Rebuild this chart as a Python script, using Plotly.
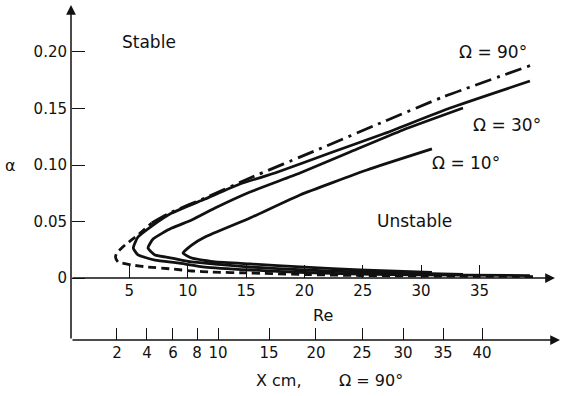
import plotly.graph_objects as go

# ---------------- data ----------------
# Omega = 90 deg, dashed lower branch + nose
dash_re    = [39.59, 29.91, 24.76, 20.05, 15.34, 12.08, 10.37, 8.65, 6.60, 5.23, 4.03, 3.81, 3.92, 4.63, 5.74, 6.92]
dash_alpha = [0.0013, 0.0018, 0.0022, 0.0031, 0.0044, 0.0053, 0.0062, 0.0080, 0.0097, 0.0115, 0.0142, 0.0186, 0.0221, 0.0292, 0.0381, 0.0487]
# Omega = 90 deg, dash-dot upper branch
dd_re    = [6.92, 8.63, 11.48, 15.34, 21.08, 26.74, 31.88, 39.50]
dd_alpha = [0.0487, 0.0584, 0.0708, 0.0885, 0.1133, 0.1381, 0.1602, 0.1885]
# Omega = 90 deg, solid
a_re    = [39.33, 29.91, 24.76, 20.05, 15.34, 11.48, 9.17, 7.20, 5.74, 5.34, 5.74, 6.92, 8.63, 11.48, 14.48, 17.48, 22.19, 26.74, 32.48, 39.33]
a_alpha = [0.0022, 0.0027, 0.0035, 0.0049, 0.0071, 0.0097, 0.0133, 0.0159, 0.0204, 0.0265, 0.0363, 0.0460, 0.0575, 0.0699, 0.0832, 0.0929, 0.1106, 0.1274, 0.1504, 0.1743]
# Omega = 30 deg
b_re    = [33.59, 29.91, 24.76, 20.05, 15.34, 12.34, 10.34, 8.63, 7.20, 6.60, 7.03, 8.63, 10.34, 12.34, 15.34, 19.62, 23.91, 28.45, 33.59]
b_alpha = [0.0031, 0.0040, 0.0053, 0.0071, 0.0097, 0.0124, 0.0142, 0.0177, 0.0204, 0.0265, 0.0345, 0.0442, 0.0513, 0.0619, 0.0761, 0.0929, 0.1115, 0.1310, 0.1504]
# Omega = 10 deg
c_re    = [30.93, 24.76, 20.05, 15.34, 12.34, 11.48, 10.34, 9.60, 10.34, 11.48, 15.34, 19.62, 25.36, 30.93]
c_alpha = [0.0049, 0.0071, 0.0097, 0.0124, 0.0142, 0.0155, 0.0177, 0.0221, 0.0292, 0.0363, 0.0531, 0.0735, 0.0956, 0.1142]

# axis ticks
re_ticks = [5, 10, 15, 20, 25, 30, 35]
alpha_ticks = [0, 0.05, 0.10, 0.15, 0.20]
alpha_labels = ["0", "0.05", "0.10", "0.15", "0.20"]
xcm_labels = ["2", "4", "6", "8", "10", "15", "20", "25", "30", "35", "40"]
xcm_at_re = [3.94, 6.51, 8.74, 10.80, 12.60, 16.97, 20.99, 24.94, 28.45, 31.88, 35.22]

# ---------------- figure ----------------
W, H = 563, 396
RE_RANGE = [-6.084, 42.16]
AL_RANGE = [-0.1044, 0.2460]
FONT = "DejaVu Sans"
BLK = "#111"

fig = go.Figure()
lw = 2.8
sm = 0.45
fig.add_trace(go.Scatter(x=dash_re, y=dash_alpha, mode="lines",
                         line=dict(color=BLK, width=lw, dash="8px,5px", shape="spline", smoothing=sm)))
fig.add_trace(go.Scatter(x=dd_re, y=dd_alpha, mode="lines",
                         line=dict(color=BLK, width=lw, dash="17px,6px,3px,6px", shape="spline", smoothing=sm)))
for xs, ys in [(a_re, a_alpha), (b_re, b_alpha), (c_re, c_alpha)]:
    fig.add_trace(go.Scatter(x=xs, y=ys, mode="lines",
                             line=dict(color=BLK, width=lw, shape="spline", smoothing=sm)))
# invisible trace so the X cm axis is drawn
fig.add_trace(go.Scatter(x=xcm_at_re, y=[0] * len(xcm_at_re), xaxis="x2", mode="markers",
                         marker=dict(opacity=0), hoverinfo="skip"))

ax_common = dict(showgrid=False, zeroline=False, showline=False, ticks="inside", ticklen=13,
                 tickwidth=1.4, tickcolor=BLK, automargin=False,
                 tickfont=dict(family=FONT, size=15, color=BLK))

fig.update_layout(
    width=W, height=H, margin=dict(l=0, r=0, t=0, b=0),
    paper_bgcolor="white", plot_bgcolor="white", showlegend=False,
    xaxis=dict(range=RE_RANGE, anchor="free", position=(H - 278) / H, side="bottom",
               tickvals=re_ticks, ticklabelstandoff=2, **ax_common),
    xaxis2=dict(range=RE_RANGE, overlaying="x", anchor="free", position=(H - 340) / H, side="bottom",
                tickvals=xcm_at_re, ticktext=xcm_labels, ticklabelstandoff=2,
                **{**ax_common, "ticklen": 12}),
    yaxis=dict(range=AL_RANGE, anchor="free", position=71 / W, side="left",
               tickvals=alpha_ticks, ticktext=alpha_labels, ticklabelstandoff=4, **ax_common),
)

# axis lines with arrows
arrow = dict(showarrow=True, arrowhead=2, arrowsize=1.3, arrowwidth=1.5, arrowcolor=BLK,
             xref="x", yref="y", axref="x", ayref="y", text="")
fig.add_annotation(x=0, y=0.2416, ax=0, ay=-0.0549, **arrow)
fig.add_annotation(x=41.47, y=0, ax=0, ay=0, **arrow)
fig.add_annotation(x=41.9, y=-0.0549, ax=0, ay=-0.0549, **arrow)

def label(txt, px, py, size=16):
    fig.add_annotation(x=px / W, y=1 - py / H, xref="paper", yref="paper", text=txt, showarrow=False,
                       xanchor="center", yanchor="middle", font=dict(family=FONT, size=size, color=BLK))

label("Stable", 149, 42, 17)
label("Unstable", 414, 221, 17)
label("Ω = 90°", 493, 52, 17)
label("Ω = 30°", 507, 125, 17)
label("Ω = 10°", 466, 163, 17)
label("Re", 323, 315, 16)
label("X cm,", 279, 380, 16)
label("Ω = 90°", 371, 380, 16)
label("α", 10, 165, 16)

fig.write_html("out.html")
